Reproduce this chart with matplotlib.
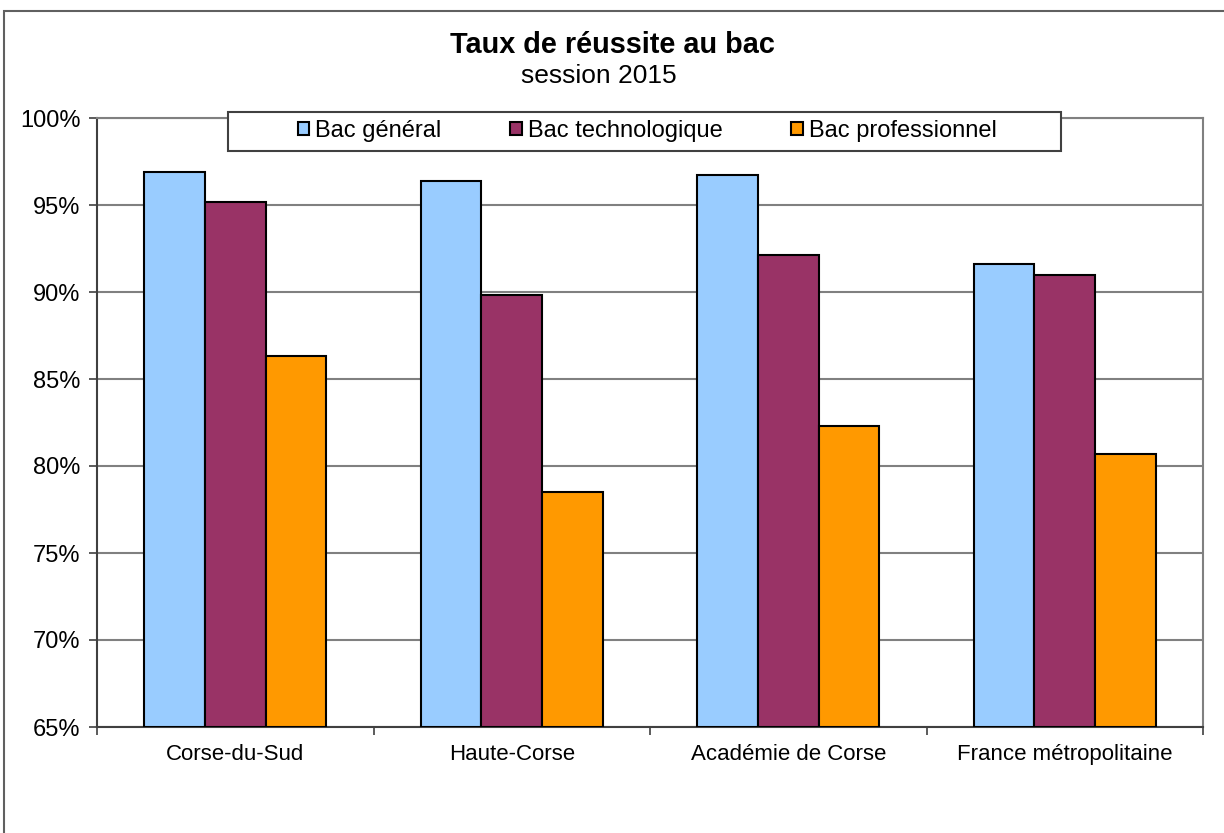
import numpy as np
import matplotlib.pyplot as plt
from matplotlib.patches import Rectangle

plt.rcParams['font.family'] = ['Liberation Sans', 'DejaVu Sans']

categories = ['Corse-du-Sud', 'Haute-Corse', 'Académie de Corse', 'France métropolitaine']
series = ['Bac général', 'Bac technologique', 'Bac professionnel']
general = [96.9, 96.4, 96.7, 91.6]
techno = [95.2, 89.8, 92.1, 91.0]
pro = [86.3, 78.5, 82.3, 80.7]
colors = ['#99CCFF', '#993366', '#FF9900']

fig = plt.figure(figsize=(12.24, 8.33), dpi=100)
ax = fig.add_axes([97/1224, 1-727/833, (1203-97)/1224, (727-118)/833])

x = np.arange(len(categories))
w = 0.22
for i, (vals, lab) in enumerate(zip([general, techno, pro], series)):
    ax.bar(x + (i-1)*w, np.array(vals) - 65, w, bottom=65, color=colors[i],
           edgecolor='black', linewidth=1.5, label=lab, zorder=3)

ax.set_xlim(-0.5, 3.5)
ax.set_ylim(65, 100)
ax.set_yticks(np.arange(65, 101, 5))
ax.set_yticklabels([f'{v}%' for v in range(65, 101, 5)], fontsize=17)
ax.yaxis.grid(True, color='#808080', linewidth=1.5, zorder=0)
ax.set_xticks(x)
ax.set_xticklabels(categories, fontsize=16)
ax.tick_params(axis='x', length=0, pad=12)
ax.set_xticks(np.arange(-0.5, 4, 1), minor=True)
ax.tick_params(axis='x', which='minor', length=6, width=1.2, color='#404040')
ax.tick_params(axis='y', length=6, width=1.2, color='#404040', pad=6)
for s in ['left', 'bottom']:
    ax.spines[s].set_color('#404040')
    ax.spines[s].set_linewidth(1.5)
for s in ['right', 'top']:
    ax.spines[s].set_color('#808080')
    ax.spines[s].set_linewidth(1.5)

# legend box drawn separately, entries centred inside
box = Rectangle((228/1224, 1-151/833), (1061-228)/1224, (151-112)/833,
                transform=fig.transFigure, facecolor='white', edgecolor='#404040',
                linewidth=1.5, zorder=4)
ax.add_artist(box)
box.set_clip_on(False)
leg = ax.legend(loc='center', bbox_to_anchor=(647/1224, 1-131/833),
                bbox_transform=fig.transFigure, ncol=3, fontsize=17,
                frameon=False, handlelength=0.5, handleheight=0.5,
                handletextpad=0.25, columnspacing=2.9, borderaxespad=0)
leg.set_zorder(5)

fig.text(0.5, 1-45/833, 'Taux de réussite au bac', ha='center', va='center',
         fontsize=20.8, fontweight='bold')
fig.text(0.489, 1-76/833, 'session 2015', ha='center', va='center', fontsize=19)

fig.patches.append(Rectangle((4/1224, -0.1), 1.2, 1-11/833+0.1, transform=fig.transFigure,
                             fill=False, edgecolor='#606060', linewidth=1.5))

fig.savefig('out.png', dpi=100)
